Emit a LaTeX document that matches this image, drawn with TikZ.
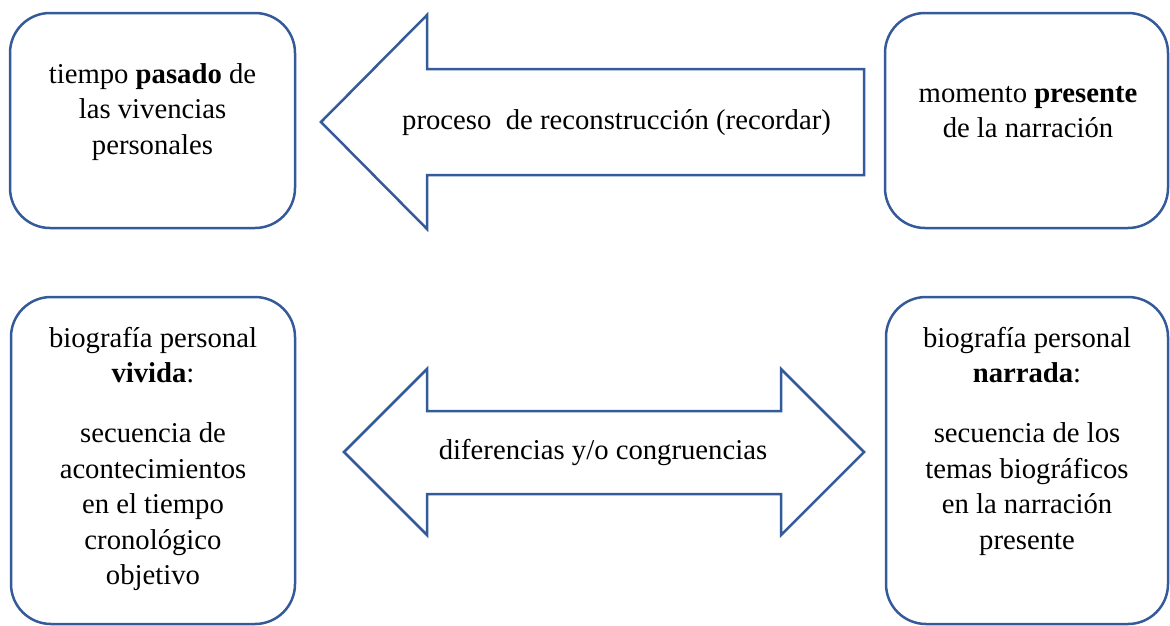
\documentclass[tikz,border=0pt]{standalone}
\usepackage{fontspec}
\setmainfont{Liberation Serif}
\definecolor{bl}{RGB}{52,90,154}
\tikzset{
  box/.style={draw=bl, line width=2.5pt, rounded corners=40pt, inner sep=0pt},
  txt/.style={align=center, font=\fontsize{28.7}{35.5}\selectfont, inner sep=0pt, anchor=north},
  arrtxt/.style={font=\fontsize{28.7}{35.5}\selectfont, inner sep=0pt, anchor=base},
  blockarrow/.style={draw=bl, line width=2.5pt, line join=miter}
}
\begin{document}
\begin{tikzpicture}[x=1pt,y=-1pt]
\useasboundingbox (0,0) rectangle (1170,625);
% boxes
\node[box, minimum width=285pt, minimum height=215pt] (past) at (152.5,120.5) {};
\node[box, minimum width=283pt, minimum height=215pt] (present) at (1026.5,120.5) {};
\node[box, minimum width=284pt, minimum height=327pt] (lived) at (153,460.5) {};
\node[box, minimum width=282pt, minimum height=327pt] (told) at (1027,460.5) {};
% texts in boxes
\node[txt] (pasttxt) at (152.5,58.15) {\strut tiempo \textbf{pasado} de\\ las vivencias\\ personales};
\node[txt] (presenttxt) at (1028,77.15) {\strut momento \textbf{presente}\\ de la narración};
\node[txt] (livedtxt) at (153,322.15) {\strut biografía personal\\ \textbf{vivida}:\\[24.5pt] secuencia de\\ acontecimientos\\ en el tiempo\\ cronológico\\ objetivo};
\node[txt] (toldtxt) at (1027,322.15) {\strut biografía personal\\ \textbf{narrada}:\\[24.5pt] secuencia de los\\ temas biográficos\\ en la narración\\ presente};
% block arrows
\draw[blockarrow] (321,122) -- (427,15) -- (427,69) -- (864,69) -- (864,175) -- (427,175) -- (427,229) -- cycle;
\draw[blockarrow] (344,452) -- (427,369) -- (427,411) -- (781,411) -- (781,369) -- (864,452) -- (781,535) -- (781,494) -- (427,494) -- (427,535) -- cycle;
\node[arrtxt] (recall) at (616.5,129) {proceso\ \ de reconstrucción (recordar)};
\node[arrtxt] (diff) at (603,459) {diferencias y/o congruencias};
\end{tikzpicture}
\end{document}
